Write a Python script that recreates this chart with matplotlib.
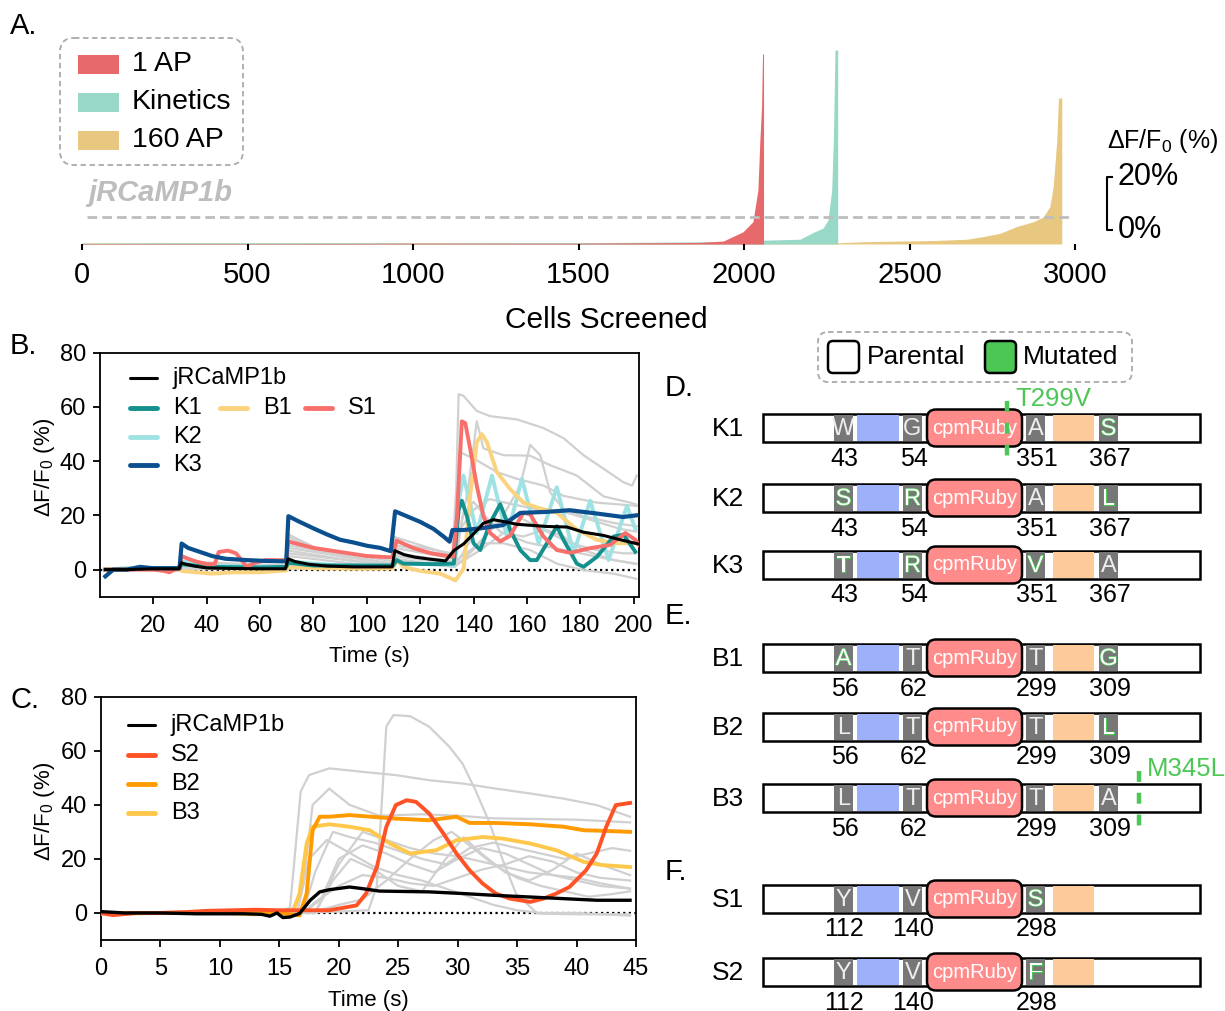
import matplotlib
matplotlib.use('Agg')
import matplotlib.pyplot as plt
import matplotlib.patheffects as pe
from matplotlib.patches import FancyBboxPatch, Rectangle

plt.rcParams['font.family'] = ['Liberation Sans', 'DejaVu Sans']
plt.rcParams['mathtext.fontset'] = 'custom'
plt.rcParams['mathtext.rm'] = 'Liberation Sans'
plt.rcParams['mathtext.it'] = 'Liberation Sans:italic'

# ── Panel A: sorted screen responses (cell index -> dF/F0 %) ──
A_LABELS = ['1 AP', 'Kinetics', '160 AP']
A_COLORS = ['#e8696b', '#98d8c6', '#e8c880']
AP1_CELLS = [0, 500, 1000, 1500, 1867, 1937, 1997, 2027, 2042, 2048, 2053, 2056, 2059]
AP1_VALS = [0.2, 0.2, 0.3, 0.3, 0.6, 1.1, 4.6, 8.4, 20.4, 39.2, 51.8, 71.7, 71.7]
KIN_CELLS = [0, 300, 650, 1000, 1500, 1867, 2169, 2208, 2239, 2254, 2265, 2270, 2275, 2283]
KIN_VALS = [0.3, 0.5, 0.5, 0.4, 0.5, 0.8, 1.8, 4.3, 6.0, 9.1, 20.4, 39.2, 73.2, 73.2]
AP160_CELLS = [0, 300, 650, 1000, 1500, 2000, 2270, 2371, 2572, 2673, 2723, 2773,
               2824, 2874, 2904, 2924, 2934, 2945, 2950, 2960]
AP160_VALS = [0.4, 0.4, 0.2, 0.4, 0.4, 0.3, 0.4, 0.9, 1.3, 1.8, 2.8, 4.0,
              6.6, 8.4, 10.2, 14.1, 21.4, 39.2, 55.1, 55.1]
A_TICKS = [0, 500, 1000, 1500, 2000, 2500, 3000]
JRC_LEVEL = 10.3

# ── Panel B: 1/3/10/160 AP traces (time s, dF/F0 %) ──
JRC_B = [(2, 0), (10, 0), (20, 0.3), (29.5, 0.3), (30.5, 2.5), (32, 2), (36, 1.2), (40, 0.6),
         (50, 0.4), (60, 0.3), (69.5, 0.3), (70.5, 4), (73, 3), (78, 2), (85, 1.3), (95, 1),
         (109.5, 1), (110.5, 7), (114, 5.5), (118, 4.6), (124, 3.8), (129.5, 3.2), (132.6, 7),
         (136.3, 9.5), (140, 13.2), (143.7, 17.1), (147.5, 18.4), (152.5, 17.5), (156.2, 16.7),
         (167.5, 15.9), (175, 15.7), (181.2, 13.8), (188.7, 12.6), (195, 11), (201.5, 9.5)]
K1_B = [(2, 0), (10, 0), (20, 0.5), (29.8, 0.5), (30.6, 2), (40, 1), (60, 0.8), (69.8, 1),
        (70.6, 2.5), (80, 1.5), (109.8, 1.5), (111.2, 3.5), (113.7, 2.2), (125, 2), (132.6, 2.2),
        (134.4, 22), (135.6, 25.4), (137.5, 19.7), (140, 9.7), (142.5, 7.2), (146.2, 17.2),
        (150, 24.1), (153.7, 14.7), (157.5, 7.2), (161.2, 3.5), (163.7, 3.5), (167.5, 9.7),
        (171.2, 16), (173.7, 11), (178.7, 2.2), (181.2, 1), (186.2, 4.7), (192.5, 12.2),
        (196.2, 12.9), (200.6, 6.6)]
K2_B = [(2, 0), (10, 0.5), (20, 0.5), (29.8, 0.5), (30.6, 3), (40, 1.5), (60, 1), (69.8, 1),
        (70.6, 3), (90, 1.5), (109.8, 1.5), (111.2, 4), (112.5, 2.2), (125, 2), (132.6, 1.6),
        (134.4, 25), (136.2, 34.7), (141.2, 13.5), (146.9, 34.7), (152.5, 12.2), (158.1, 33.5),
        (164.4, 9.7), (171.2, 30.4), (177.5, 6), (183.7, 25.4), (190.6, 3.5), (197.5, 23.5),
        (200.6, 15)]
K3_B = [(2, -2.5), (5, 0), (10, 0), (15, 1), (20, 0.5), (25, 0.5), (29.8, 0.5), (30.6, 9.6),
        (33, 8), (37.5, 6.5), (42, 5), (47, 4), (55, 3.5), (62, 3.2), (69.8, 3), (70.6, 19.7),
        (74, 18), (80, 15.2), (85, 13), (90, 11), (95, 10), (100, 8.8), (105, 8), (109, 6.8),
        (110.6, 21.5), (113, 20.5), (120, 17.6), (125, 15), (129, 12), (131, 10.3), (132.1, 14.6),
        (136.3, 14.6), (142.5, 15.2), (151, 16.4), (157.5, 20.9), (167.5, 21.3), (176, 21.9),
        (186, 20.7), (196, 19.4), (201, 20)]
B1_B = [(2, 0), (10, 0.3), (20, 0), (29.8, 0), (30.6, -0.5), (36, -1), (42, -1.5), (50, -1),
        (60, -1), (69.8, -0.3), (70.6, 1), (80, 0.5), (100, 0.3), (109.8, 0.5), (111.2, 3.5),
        (113.7, 1), (120, -0.5), (127.5, -1.5), (131, -3), (133.2, -4), (136.3, 0.4), (138.7, 27),
        (141.2, 47), (143.1, 50), (145, 47), (148.7, 36), (153.7, 29.7), (158.7, 24.7),
        (163.7, 22.9), (171.2, 21), (178.7, 14.7), (186.2, 11), (193.7, 9.7), (200.6, 9.7)]
S1_B = [(2, 0), (10, 0), (20, 0), (24, -0.5), (26, -1), (28, 0), (29.8, 0.3), (30.6, 5),
        (33, 4), (36, 3), (40, 2), (43, 2), (44.5, 6.5), (48, 7), (51, 6), (55, 1), (58, 2.5),
        (62, 3.5), (66, 3.5), (69.8, 3.5), (70.6, 10.4), (74, 9.5), (80, 8), (90, 6.5), (100, 5),
        (109.5, 4.5), (111.2, 10.7), (117.5, 7.9), (124, 6), (132.4, 4.7), (133.8, 19.7),
        (135.6, 54.7), (136.9, 54), (138.7, 44.7), (141.2, 31), (143.7, 19.7), (146.2, 13.5),
        (150, 10.4), (153.7, 12.5), (158.7, 21), (161.2, 20.4), (166.2, 12.2), (171.2, 7.2),
        (176.2, 6.2), (183.7, 7.9), (191.2, 9.1), (196.9, 13.5), (200.6, 11), (202, 9.1)]
GRAY_B = [
    [(2, 0), (30, 0), (30.5, 2), (70, 1), (70.5, 8), (110, 2), (110.5, 9), (132, 5), (133.5, 30),
     (134.4, 64.7), (136.2, 64.1), (141.2, 58.5), (146.2, 56.6), (156.2, 55.4), (166.2, 52.2),
     (173.7, 48.5), (181.2, 42.2), (188.7, 37.2), (196.2, 32.2), (199.4, 31), (201.2, 34.7)],
    [(2, 0), (30, 0.5), (30.5, 3), (70, 1.5), (70.5, 12), (80, 8), (110, 3), (110.5, 10), (132, 6),
     (134, 10), (138, 30), (141.2, 54.7), (143.7, 44.7), (151.2, 42.2), (161.2, 42),
     (168.7, 38.5), (178.7, 34.7), (188.7, 27), (198.7, 24.7), (201, 24)],
    [(2, 0), (30, 0), (30.5, 1.5), (70, 0.5), (70.5, 6), (110, 1.5), (110.5, 6), (133, 3),
     (140, 8), (150, 18), (157.5, 31), (161.2, 46), (165, 42.2), (168.7, 28.5), (173.7, 22.2),
     (181.2, 19.7), (192.5, 17.2), (201.2, 16)],
    [(2, 0), (30, 0), (30.5, 1), (70, 0.3), (70.5, 10), (90, 5), (110, 2), (110.5, 8), (133, 4),
     (134.4, 43.5), (140, 41), (148.7, 36), (156.2, 33.5), (166.2, 31), (173.7, 27.2),
     (186.2, 24.7), (201.2, 23.5)],
    [(2, 0), (30, 0), (30.5, 2), (70, 1), (70.5, 9), (110, 2), (110.5, 5), (133, 2), (134.4, 3.5),
     (141.2, 14.7), (148.7, 17.2), (156.2, 19.7), (163.7, 16), (173.7, 12.2), (181.2, 7.2),
     (192.5, 3.5), (201, 2.2)],
    [(2, 0), (30, 0), (30.5, 1), (70, 0), (70.5, 5), (110, 0.5), (110.5, 4), (133, 1),
     (134.4, 2.2), (142.5, 9.7), (151.2, 9.7), (161.2, 7.2), (171.2, 2.2), (181.2, -0.2),
     (192.5, -1.5), (201, -3.4)],
    [(2, 0), (30, 0), (30.5, 1.5), (70, 0.5), (70.5, 7), (110, 1), (110.5, 6), (133, 2),
     (134.4, 2.2), (142.5, 7.2), (151.2, 13.5), (158.7, 12.2), (166.2, 14.7), (176.2, 9.7),
     (186.2, 7.2), (196.2, 6), (201, 6)],
    [(2, 0), (30, 0), (30.5, 2.5), (70, 1), (70.5, 13), (85, 6), (110, 2), (110.5, 12), (133, 5),
     (135, 15), (140, 22), (146, 26), (155, 24), (165, 22), (175, 21), (185, 18), (195, 15),
     (201, 14)],
    [(2, 0), (110, 0.5), (110.5, 3), (133, 1), (136, 20), (140, 25), (145, 19), (150, 14),
     (160, 10), (170, 8), (180, 6), (190, 4), (201, 2)],
]

# ── Panel C: 160 AP traces (time s, dF/F0 %) ──
JRC_C = [(0, 0.5), (2, 0), (5, 0), (8, -0.3), (10, -0.3), (12, -0.3), (13.5, -0.5), (14.2, -1.2),
         (14.8, 0), (15.3, -1.7), (15.9, -1.5), (16.7, -0.2), (17.6, 4.7), (18.4, 7.8), (19.2, 8.6),
         (20.9, 9.6), (22, 9), (23.4, 8.1), (27.6, 7.8), (30.4, 7.2), (33.2, 6.5), (36.1, 5.9),
         (38.9, 5.3), (41.7, 4.7), (44.5, 4.7)]
S2_C = [(0, 0), (1, -0.8), (3, 0), (5, 0), (7, 0.3), (9, 0.8), (11, 1), (13, 1.2), (15, 1),
        (17, 1), (19.2, 1), (21.5, 2.8), (22.3, 7.2), (23.2, 17), (24, 31.9), (24.8, 39.9),
        (25.7, 41.7), (26.5, 41.1), (27.6, 36.8), (28.8, 29.4), (29.9, 22), (31, 15.8),
        (32.1, 10.9), (33.2, 7.2), (34.4, 5.3), (36.1, 4.1), (37.2, 5.3), (38.3, 7.2), (39.4, 9.6),
        (40.8, 15.8), (41.7, 22), (42.5, 31.9), (43.3, 39.9), (44.5, 40.7)]
B2_C = [(0, 0), (5, 0), (10, 0.3), (15, 0), (16.7, -0.9), (17.3, 7.2), (17.8, 30.6), (18.4, 35.6),
        (19.2, 35.6), (20.9, 36.2), (24.8, 34.9), (27.6, 34.3), (29.9, 35.6), (31, 33.3),
        (33.2, 33.3), (36.1, 32.8), (38.9, 31.9), (40.6, 30.6), (42.2, 30.4), (44.5, 30)]
B3_C = [(0, -0.3), (5, 0), (10, 0), (13, -0.5), (16.2, 1), (16.7, 7.2), (17.3, 25.7), (17.8, 31.9),
        (19.2, 32.8), (20.9, 31.9), (22.6, 30.6), (24.3, 25.7), (26, 22), (28.2, 23.2), (29.9, 26.9),
        (32.1, 28.1), (33.8, 27.5), (36.1, 25.7), (38.3, 23.2), (40.6, 18.9), (42.2, 17.7),
        (44.5, 17)]
GRAY_C = [
    [(0, 0), (15, 0), (20, 0.5), (22.5, 1), (23.2, 10), (24, 69), (24.6, 73.2), (26, 72.8),
     (27.6, 68.9), (29.3, 61.5), (30.4, 55.3), (31.5, 45.4), (32.7, 33.1), (33.8, 19.5),
     (34.9, 7.2), (36.7, -0.2), (40, -0.5), (44.5, -0.5)],
    [(0, 0), (15, 0.5), (15.9, 2), (16.8, 45), (17.5, 51), (19.2, 53.5), (22, 52.2), (24.8, 51),
     (27.6, 49.1), (30.4, 47.9), (33.2, 46), (36.1, 44.2), (38.9, 42.3), (41.7, 39.9), (44.5, 35.6)],
    [(0, 0), (16, 0.5), (17, 10), (17.8, 40), (19.2, 46), (20.9, 40), (23.4, 36), (27, 36.5),
     (30, 36), (33, 35), (36, 34.8), (40, 34.5), (44.5, 33.5)],
    [(0, 0), (17, 0), (18, 15), (19.5, 30), (21, 28), (23, 26), (25, 23), (27, 20), (29, 18),
     (31, 24), (33, 26), (35, 24), (37, 22), (39, 20), (41, 22), (43, 24), (44.5, 23)],
    [(0, 0), (17, 0), (18.5, 5), (20, 20), (22, 25), (24, 22), (26, 18), (28, 15), (30, 20),
     (32, 24), (34, 22), (36, 18), (38, 14), (40, 12), (42, 10), (44.5, 9)],
    [(0, 0), (18, 0), (19.5, 12), (21, 20), (23, 16), (25, 10), (27, 8), (29, 20), (30.5, 28),
     (32, 22), (34, 15), (36, 12), (38, 16), (40, 22), (42, 18), (44.5, 14)],
    [(0, 0), (18, 0.5), (20, 3), (22, 5), (24, 12), (26, 20), (28, 27), (29.5, 30), (31, 25),
     (33, 18), (35, 13), (37, 10), (39, 8), (41, 6), (43, 7), (44.5, 8)],
    [(0, 0), (16.5, 0), (17.5, 20), (19, 27), (21, 22), (23, 17), (25, 14), (27, 12), (29, 9),
     (31, 6), (33, 3), (35, 1), (37, 0), (40, 0), (44.5, -1)],
    [(0, 0), (17, 0), (18, 4), (20, 10), (22, 14), (24, 13), (26, 11), (28, 10), (30, 13),
     (32, 16), (34, 18), (36, 21), (38, 19), (40, 15), (42, 13), (44.5, 12)],
    [(0, 0), (18, 0), (20, 18), (22, 30), (24, 27), (26, 24), (28, 22), (30, 21), (32, 19),
     (34, 17), (36, 15), (38, 14), (40, 13), (42, 11), (44.5, 9)],
]

# ── Panels D-F: construct schematics ──
CONSTRUCTS = ['K1', 'K2', 'K3', 'B1', 'B2', 'B3', 'S1', 'S2']
RESIDUES = [['W', 'G', 'A', 'S'], ['S', 'R', 'A', 'L'], ['T', 'R', 'V', 'A'],
            ['A', 'T', 'T', 'G'], ['L', 'T', 'T', 'L'], ['L', 'T', 'T', 'A'],
            ['Y', 'V', 'S'], ['Y', 'V', 'F']]
MUTATED = [[0, 0, 0, 1], [1, 1, 0, 1], [1, 1, 1, 0],
           [1, 0, 0, 1], [0, 0, 0, 1], [0, 0, 0, 0],
           [0, 0, 1], [0, 0, 1]]
POSITIONS = [[43, 54, 351, 367]] * 3 + [[56, 62, 299, 309]] * 3 + [[112, 140, 298]] * 2
POINT_MUTS = {'K1': 'T299V', 'B3': 'M345L'}

W, H = 1225, 1011
fig = plt.figure(figsize=(W / 100, H / 100), dpi=100)


def px_axes(l, t, r, b):
    return fig.add_axes([l / W, 1 - b / H, (r - l) / W, (b - t) / H])


# ── Panel A ──
axA = px_axes(82, 32, 1075, 244)
for cells, vals, c in [(AP160_CELLS, AP160_VALS, A_COLORS[2]),
                       (KIN_CELLS, KIN_VALS, A_COLORS[1]),
                       (AP1_CELLS, AP1_VALS, A_COLORS[0])]:
    axA.fill_between(cells, vals, 0, color=c, lw=0)
axA.set_xlim(0, 3000)
axA.set_ylim(0, 80)
for s in axA.spines.values():
    s.set_visible(False)
axA.set_yticks([])
axA.set_xticks(A_TICKS)
axA.tick_params(axis='x', length=4, width=1.5, labelsize=21, pad=8)
axA.hlines(JRC_LEVEL, 15, 2990, colors='#bdbdbd', linestyles=(0, (3.5, 1.8)), lw=2,
           clip_on=False, zorder=5)
# scale bar 0-20 %
axA.plot([3112, 3097, 3097, 3112], [25.3, 25.3, 5.3, 5.3], color='black', lw=1.5,
         clip_on=False)
axA.text(3128, 25.3, '20%', fontsize=22, va='center', ha='left')
axA.text(3128, 5.3, '0%', fontsize=22, va='center', ha='left')

# ── Panels B and C ──
def style_trace_axes(ax, xmax, xticks, label_x):
    ax.set_xlim(0, xmax)
    ax.set_ylim(-10, 80)
    ax.set_xticks(xticks)
    ax.set_yticks([0, 20, 40, 60, 80])
    for s in ax.spines.values():
        s.set_linewidth(1.3)
    ax.tick_params(length=5, width=1.3, labelsize=17, pad=5)
    ax.tick_params(axis='x', pad=8)
    ax.axhline(0, color='black', ls=(0, (1, 1.5)), lw=1.6, zorder=1)
    ax.set_xlabel('Time (s)', fontsize=16, labelpad=7)
    ax.set_ylabel('ΔF/F$_0$ (%)', fontsize=16)
    ax.yaxis.set_label_coords(label_x, 0.53)


def draw(ax, pts, color, lw, z):
    t, v = zip(*pts)
    ax.plot(t, v, color=color, lw=lw, zorder=z, solid_joinstyle='round')


GRAY = '#d0d0d0'
axB = px_axes(100, 352.7, 639, 596.7)
style_trace_axes(axB, 202, list(range(20, 201, 20)), -0.08)
for g in GRAY_B:
    draw(axB, g, GRAY, 1.6, 2)
draw(axB, K2_B, '#9fe2e3', 2.8, 3)
draw(axB, B1_B, '#fad37e', 2.8, 3)
draw(axB, K1_B, '#14908e', 2.8, 4)
draw(axB, S1_B, '#f8706b', 2.8, 5)
draw(axB, K3_B, '#0b4f8e', 3.0, 6)
draw(axB, JRC_B, 'black', 2.2, 7)

axC = px_axes(101, 696.7, 636, 940)
style_trace_axes(axC, 45, list(range(0, 46, 5)), -0.082)
for g in GRAY_C:
    draw(axC, g, GRAY, 1.6, 2)
draw(axC, B3_C, '#ffc84a', 2.8, 3)
draw(axC, B2_C, '#ff9a00', 2.8, 4)
draw(axC, S2_C, '#ff5226', 2.8, 5)
draw(axC, JRC_C, 'black', 2.4, 6)

# ── overlay in pixel coordinates ──
ov = fig.add_axes([0, 0, 1, 1])
ov.set_xlim(0, W)
ov.set_ylim(H, 0)
ov.axis('off')

for lab, (x, y) in {'A.': (10, 26), 'B.': (10, 346), 'C.': (10, 700),
                    'D.': (665, 388), 'E.': (665, 616), 'F.': (665, 872)}.items():
    ov.text(x, y, lab, fontsize=21, va='center', ha='left')

# panel A legend and labels
ov.add_patch(FancyBboxPatch((60, 38), 183, 127, boxstyle='round,pad=0,rounding_size=14',
                            fill=False, ec='#aaaaaa', ls=(0, (3, 2)), lw=1.3))
for i, (lab, c) in enumerate(zip(A_LABELS, A_COLORS)):
    y = 64 + 38 * i
    ov.add_patch(Rectangle((78, y - 9.5), 41, 19, color=c, lw=0))
    ov.text(132, y, lab, fontsize=20.5, va='center', ha='left')
ov.text(88, 193, 'jRCaMP1b', fontsize=21, fontweight='bold', fontstyle='italic',
        color='#bdbdbd', va='center', ha='left')
ov.text(1163, 141, 'ΔF/F$_0$ (%)', fontsize=18, va='center', ha='center')
ov.text(606, 320, 'Cells Screened', fontsize=21.5, va='center', ha='center')

# panel B / C legends
def legend_entry(x, y, lab, color, lw):
    ov.plot([x, x + 27], [y, y], color=color, lw=lw, solid_capstyle='round')
    ov.text(x + 43, y, lab, fontsize=17, va='center', ha='left')


legend_entry(130, 378, 'jRCaMP1b', 'black', 2.2)
legend_entry(130, 408, 'K1', '#14908e', 3.5)
legend_entry(220, 408, 'B1', '#fad37e', 3.5)
legend_entry(305, 408, 'S1', '#f8706b', 3.5)
legend_entry(130, 437, 'K2', '#9fe2e3', 3.5)
legend_entry(130, 465, 'K3', '#0b4f8e', 3.5)
legend_entry(128, 725, 'jRCaMP1b', 'black', 2.2)
legend_entry(128, 755, 'S2', '#ff5226', 3.5)
legend_entry(128, 784, 'B2', '#ff9a00', 3.5)
legend_entry(128, 813, 'B3', '#ffc84a', 3.5)

# panel D legend
GREEN = '#4cc655'
ov.add_patch(FancyBboxPatch((818, 332), 314, 50, boxstyle='round,pad=0,rounding_size=10',
                            fill=False, ec='#aaaaaa', ls=(0, (3, 2)), lw=1.3))
ov.add_patch(FancyBboxPatch((828, 341), 31, 32, boxstyle='round,pad=0,rounding_size=5',
                            fc='white', ec='black', lw=1.8))
ov.text(867, 357, 'Parental', fontsize=19, va='center', ha='left')
ov.add_patch(FancyBboxPatch((985, 341), 31, 32, boxstyle='round,pad=0,rounding_size=5',
                            fc=GREEN, ec='black', lw=1.8))
ov.text(1023, 357, 'Mutated', fontsize=19, va='center', ha='left')

# construct bars
ROW_Y = [428, 498, 565, 658, 727, 798, 899, 972]
BOX_X = [834, 903, 1026, 1099]
BOX_W = 19
for name, yc, res, mut, pos in zip(CONSTRUCTS, ROW_Y, RESIDUES, MUTATED, POSITIONS):
    ov.text(728, yc + 1, name, fontsize=19, va='center', ha='center')
    ov.add_patch(Rectangle((763, yc - 14), 437, 28, fc='white', ec='black', lw=1.8, zorder=2))
    ov.add_patch(Rectangle((857, yc - 13), 41.5, 26, fc='#9fb0fa', lw=0, zorder=3))
    ov.add_patch(Rectangle((1052.5, yc - 13), 41.5, 26, fc='#fdcb9a', lw=0, zorder=3))
    for r, m, p, bx in zip(res, mut, pos, BOX_X):
        ov.add_patch(Rectangle((bx, yc - 13), BOX_W, 26, fc='#777777', lw=0, zorder=3))
        if m:
            ov.text(bx + BOX_W / 2, yc + 1, r, fontsize=17, color='white', va='center',
                    ha='center', zorder=4,
                    path_effects=[pe.Stroke(linewidth=1.0, foreground=GREEN), pe.Normal()])
        else:
            ov.text(bx + BOX_W / 2, yc + 1, r, fontsize=17, color='#eeeeee', va='center',
                    ha='center', zorder=4)
        ov.text(bx + BOX_W / 2 + 1, yc + 30.5, str(p), fontsize=18, va='center', ha='center')
    ov.add_patch(FancyBboxPatch((927, yc - 18.5), 95, 37, boxstyle='round,pad=0,rounding_size=9',
                                fc='#ff8b8b', ec='black', lw=1.8, zorder=5))
    ov.text(974.5, yc, 'cpmRuby', fontsize=14.5, color='white', va='center', ha='center',
            zorder=6)
    if name in POINT_MUTS:
        mx = 1007 if name == 'K1' else 1139
        ov.plot([mx, mx], [yc - 27, yc + 30], color=GREEN, lw=3.2, ls=(0, (2.45, 2.45)),
                zorder=7)
        ov.text(mx + 8, yc - 29, POINT_MUTS[name], fontsize=18.5, color=GREEN,
                va='center', ha='left', zorder=7)

fig.savefig('out.png', dpi=100)
